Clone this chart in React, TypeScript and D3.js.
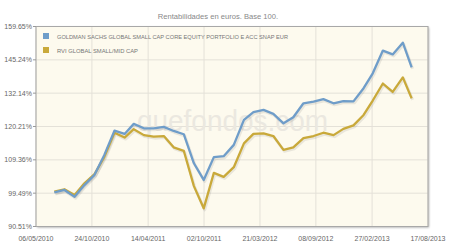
import React from "react";
import * as d3 from "d3";

const dates: string[] = [
  "2010-07-01","2010-08-01","2010-09-01","2010-10-01","2010-11-01","2010-12-01",
  "2011-01-01","2011-02-01","2011-03-01","2011-04-01","2011-05-01","2011-06-01",
  "2011-07-01","2011-08-01","2011-09-01","2011-10-01","2011-11-01","2011-12-01",
  "2012-01-01","2012-02-01","2012-03-01","2012-04-01","2012-05-01","2012-06-01",
  "2012-07-01","2012-08-01","2012-09-01","2012-10-01","2012-11-01","2012-12-01",
  "2013-01-01","2013-02-01","2013-03-01","2013-04-01","2013-05-01","2013-06-01",
  "2013-06-28",
];

const goldman: number[] = [
  99.7, 100.4, 98.5, 101.8, 104.8, 110.9, 118.8, 117.7, 121.1, 119.6, 119.6, 120.1,
  118.7, 117.6, 108.3, 103.3, 110.2, 110.5, 114.1, 122.5, 125.2, 126.0, 124.6, 121.3,
  123.4, 128.4, 129.0, 129.9, 128.4, 129.2, 129.1, 134.0, 139.8, 149.1, 147.5, 152.5,
  142.2,
];

const rvi: number[] = [
  99.9, 100.6, 99.0, 102.3, 105.0, 110.3, 118.1, 116.5, 119.3, 117.3, 116.8, 117.0,
  113.3, 112.2, 101.5, 95.3, 105.4, 104.2, 107.1, 114.6, 117.7, 117.9, 117.0, 112.5,
  113.3, 116.3, 117.0, 118.1, 117.3, 119.4, 120.6, 124.2, 129.4, 135.8, 132.6, 138.2,
  130.2,
];

const yTicks: number[] = [90.51, 99.49, 109.36, 120.21, 132.14, 145.24, 159.65];
const xTicks: string[] = [
  "2010-05-06","2010-10-24","2011-04-14","2011-10-02",
  "2012-03-21","2012-09-08","2013-02-27","2013-08-17",
];

const seriesNames: string[] = [
  "GOLDMAN SACHS GLOBAL SMALL CAP CORE EQUITY PORTFOLIO E ACC SNAP EUR",
  "RVI GLOBAL SMALL/MID CAP",
];
const seriesColors: string[] = ["#6f9dc9", "#c9a93a"];

const W = 450, H = 246;
const M = { left: 36, right: 428, top: 26.5, bottom: 226.5 };

export default function App() {
  const parse = d3.timeParse("%Y-%m-%d");
  const fmt = d3.timeFormat("%d/%m/%Y");
  const x = d3.scaleTime()
    .domain([parse(xTicks[0])!, parse(xTicks[xTicks.length - 1])!])
    .range([M.left, M.right]);
  const y = d3.scaleLog()
    .domain([yTicks[0], yTicks[yTicks.length - 1]])
    .range([M.bottom, M.top]);
  const pts = dates.map((d) => parse(d)!);
  const line = d3.line<number>()
    .x((_, i) => x(pts[i]))
    .y((v) => y(v));
  const series = [goldman, rvi];
  const font = "Arial, 'Liberation Sans', sans-serif";

  return (
    <svg width={W} height={H} style={{ position: "absolute", left: 0, top: 0, background: "#fff" }}
      fontFamily={font}>
      <defs>
        <filter id="sh" x="-5%" y="-5%" width="110%" height="115%">
          <feGaussianBlur in="SourceAlpha" stdDeviation="1.2" />
          <feOffset dx="1" dy="1" result="b" />
          <feComponentTransfer><feFuncA type="linear" slope="0.35" /></feComponentTransfer>
          <feMerge><feMergeNode /><feMergeNode in="SourceGraphic" /></feMerge>
        </filter>
        <clipPath id="clip">
          <rect x={M.left} y={M.top} width={M.right - M.left} height={M.bottom - M.top} />
        </clipPath>
      </defs>
      <text x={218} y={18.5} textAnchor="middle" fontSize={7.6} fill="#888">
        Rentabilidades en euros. Base 100.
      </text>
      <rect x={M.left} y={M.top} width={M.right - M.left} height={M.bottom - M.top}
        fill="#fdfaee" filter="url(#sh)" />
      {yTicks.map((t) => (
        <line key={"gy" + t} x1={M.left} x2={M.right} y1={y(t)} y2={y(t)} stroke="#e4e1d8" strokeWidth={1} />
      ))}
      {xTicks.map((t) => (
        <line key={"gx" + t} x1={x(parse(t)!)} x2={x(parse(t)!)} y1={M.top} y2={M.bottom}
          stroke="#e4e1d8" strokeWidth={1} />
      ))}
      <text x={137} y={131} fontSize={30} fill="#ebe8e0" textLength={191} lengthAdjust="spacingAndGlyphs"
        fontFamily="Arial, sans-serif">quefondos.com</text>
      <rect x={M.left} y={M.top} width={M.right - M.left} height={M.bottom - M.top}
        fill="none" stroke="#a8a8a8" strokeWidth={1} />
      {yTicks.map((t) => (
        <g key={"ty" + t}>
          <line x1={M.left - 3} x2={M.left} y1={y(t)} y2={y(t)} stroke="#999" />
          <text x={M.left - 4} y={y(t) + 2.5} textAnchor="end" fontSize={7} fill="#666">
            {t.toFixed(2)}%
          </text>
        </g>
      ))}
      {xTicks.map((t) => (
        <text key={"tx" + t} x={x(parse(t)!)} y={241} textAnchor="middle" fontSize={7} fill="#666">
          {fmt(parse(t)!)}
        </text>
      ))}
      <g clipPath="url(#clip)">
        {series.map((s, i) => (
          <path key={"sh" + i} d={line(s) || ""} fill="none" stroke="#000" strokeOpacity={0.08}
            strokeWidth={3} transform="translate(1,1.5)" strokeLinejoin="round" />
        ))}
        {series.slice().reverse().map((s, j) => {
          const i = series.length - 1 - j;
          return (
            <path key={"l" + i} d={line(s) || ""} fill="none" stroke={seriesColors[i]}
              strokeWidth={2.3} strokeLinejoin="round" />
          );
        })}
      </g>
      {seriesNames.map((n, i) => (
        <g key={"lg" + i}>
          <rect x={43} y={33 + i * 14} width={6} height={6} fill={seriesColors[i]} />
          <text x={57} y={38.5 + i * 14} fontSize={5.6} fill="#777"
            textLength={i === 0 ? 231 : 81} lengthAdjust="spacingAndGlyphs">{n}</text>
        </g>
      ))}
    </svg>
  );
}
